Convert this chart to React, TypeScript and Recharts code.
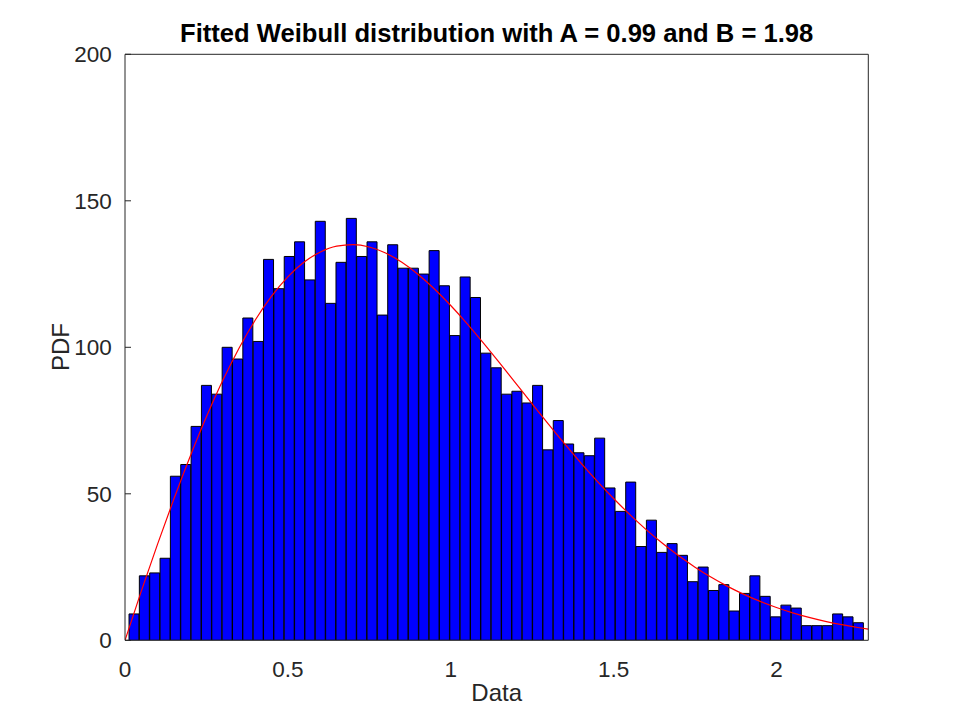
import React from "react";
import { ComposedChart, Bar, Line, XAxis, YAxis } from "recharts";

const binCenters = [
  0.0282, 0.0599, 0.0917, 0.1235, 0.1552, 0.187, 0.2188, 0.2505, 0.2823, 0.3141,
  0.3459, 0.3776, 0.4094, 0.4412, 0.4729, 0.5047, 0.5365, 0.5682, 0.6, 0.6318,
  0.6636, 0.6953, 0.7271, 0.7589, 0.7906, 0.8224, 0.8542, 0.8859, 0.9177, 0.9495,
  0.9812, 1.013, 1.0448, 1.0765, 1.1083, 1.1401, 1.1719, 1.2036, 1.2354, 1.2672,
  1.2989, 1.3307, 1.3625, 1.3942, 1.426, 1.4578, 1.4895, 1.5213, 1.5531, 1.5848,
  1.6166, 1.6484, 1.6801, 1.7119, 1.7437, 1.7754, 1.8072, 1.839, 1.8707, 1.9025,
  1.9343, 1.966, 1.9978, 2.0296, 2.0613, 2.0931, 2.1249, 2.1566, 2.1884, 2.2202,
  2.252,
];

const binCounts = [
  9, 22, 23, 28, 56, 60, 73, 87, 84, 100,
  96, 110, 102, 130, 120, 131, 136, 123, 143, 115,
  129, 144, 131, 136, 111, 135, 127, 127, 125, 133,
  121, 104, 124, 117, 98, 93, 84, 85, 81, 87,
  65, 75, 67, 64, 63, 69, 52, 44, 54, 32,
  41, 30, 33, 29, 20, 25, 17, 19, 10, 16,
  22, 15, 8, 12, 11, 5, 5, 5, 9, 8,
  6,
];

const curveX = [
  0, 0.05, 0.1, 0.15, 0.2, 0.25, 0.3, 0.35, 0.4, 0.45,
  0.5, 0.55, 0.6, 0.65, 0.7, 0.75, 0.8, 0.85, 0.9, 0.95,
  1.0, 1.05, 1.1, 1.15, 1.2, 1.25, 1.3, 1.35, 1.4, 1.45,
  1.5, 1.55, 1.6, 1.65, 1.7, 1.75, 1.8, 1.85, 1.9, 1.95,
  2.0, 2.05, 2.1, 2.15, 2.2, 2.25, 2.282,
];

const curveY = [
  0, 16.77, 32.84, 48.2, 62.76, 76.28, 88.65, 99.7, 109.33, 117.47,
  124.06, 129.08, 132.55, 134.52, 135.04, 134.23, 132.18, 129.01, 124.87, 119.91,
  114.26, 108.09, 101.5, 94.66, 87.67, 80.69, 73.77, 67.0, 60.48, 54.26,
  48.4, 42.9, 37.78, 33.11, 28.83, 24.97, 21.5, 18.4, 15.68, 13.27,
  11.18, 9.36, 7.8, 6.46, 5.32, 4.36, 3.8,
];

const xTicks = [0, 0.5, 1, 1.5, 2];
const yTicks = [0, 50, 100, 150, 200];
const xDomain: [number, number] = [0, 2.282];
const yDomain: [number, number] = [0, 200];

const titleText = "Fitted Weibull distribution with A = 0.99 and B = 1.98";
const xLabelText = "Data";
const yLabelText = "PDF";

const bins = binCenters.map((x, i) => ({ x, count: binCounts[i] }));
const curve = curveX.map((x, i) => ({ x, y: curveY[i] }));

const FONT = '"Liberation Sans", Arial, Helvetica, sans-serif';
const AX = "#262626";

const XTick = (p: any) => (
  <text
    x={p.x}
    y={p.y}
    dy={15.5}
    textAnchor="middle"
    fill={AX}
    fontSize={22.5}
    fontFamily={FONT}
  >
    {p.payload.value}
  </text>
);

export default function App() {
  return (
    <div
      style={{
        position: "absolute",
        left: 0,
        top: 0,
        width: 960,
        height: 720,
        background: "#fff",
        fontFamily: FONT,
      }}
    >
      <ComposedChart
        width={960}
        height={720}
        data={bins}
        barCategoryGap={0}
        barGap={0}
        margin={{ top: 34.3, right: 71.7, bottom: 39.7, left: 65 }}
        style={{ fontFamily: FONT }}
      >
        <XAxis
          xAxisId="b"
          dataKey="x"
          type="number"
          domain={xDomain}
          ticks={xTicks}
          allowDataOverflow
          orientation="bottom"
          height={40}
          tickSize={0}
          tickLine={false}
          tickMargin={21.5}
          stroke={AX}
          tick={<XTick />}
          interval={0}
        />
        <XAxis
          xAxisId="bm"
          type="number"
          domain={xDomain}
          ticks={xTicks}
          allowDataOverflow
          orientation="bottom"
          mirror
          height={0}
          tickSize={6}
          tick={false}
          axisLine={false}
          stroke={AX}
          interval={0}
        />
        <XAxis
          xAxisId="t"
          type="number"
          domain={xDomain}
          ticks={xTicks}
          allowDataOverflow
          orientation="top"
          height={20}
          tickSize={-6}
          tick={false}
          stroke={AX}
          interval={0}
        />
        <XAxis
          xAxisId="c"
          dataKey="x"
          type="number"
          domain={xDomain}
          allowDataOverflow
          hide
        />
        <YAxis
          yAxisId="l"
          domain={yDomain}
          ticks={yTicks}
          allowDataOverflow
          width={60}
          tickSize={-6}
          tickMargin={19.3}
          stroke={AX}
          tick={{ fill: AX, fontSize: 22.5, fontFamily: FONT }}
          interval={0}
        />
        <YAxis
          yAxisId="r"
          orientation="right"
          domain={yDomain}
          ticks={yTicks}
          allowDataOverflow
          width={20}
          tickSize={-6}
          tick={false}
          stroke={AX}
          interval={0}
        />
        <Bar
          xAxisId="b"
          yAxisId="l"
          dataKey="count"
          fill="#0000ff"
          stroke="#000000"
          strokeWidth={1}
          isAnimationActive={false}
        />
        <Line
          xAxisId="c"
          yAxisId="l"
          data={curve}
          dataKey="y"
          type="monotone"
          stroke="#ff0000"
          strokeWidth={1.2}
          dot={false}
          activeDot={false}
          isAnimationActive={false}
        />
      </ComposedChart>
      <div
        style={{
          position: "absolute",
          left: 125,
          width: 743.3,
          top: 19.9,
          height: 26,
          lineHeight: "26px",
          textAlign: "center",
          fontSize: 25.6,
          fontWeight: "bold",
          color: "#000",
          whiteSpace: "nowrap",
        }}
      >
        {titleText}
      </div>
      <div
        style={{
          position: "absolute",
          left: 125,
          width: 743.3,
          top: 681.4,
          height: 24,
          lineHeight: "24px",
          textAlign: "center",
          fontSize: 24,
          color: AX,
          whiteSpace: "nowrap",
        }}
      >
        {xLabelText}
      </div>
      <div
        style={{
          position: "absolute",
          left: -39,
          width: 200,
          top: 335.3,
          height: 24,
          lineHeight: "24px",
          textAlign: "center",
          fontSize: 24,
          color: AX,
          whiteSpace: "nowrap",
          transform: "rotate(-90deg)",
          transformOrigin: "center center",
        }}
      >
        {yLabelText}
      </div>
    </div>
  );
}
